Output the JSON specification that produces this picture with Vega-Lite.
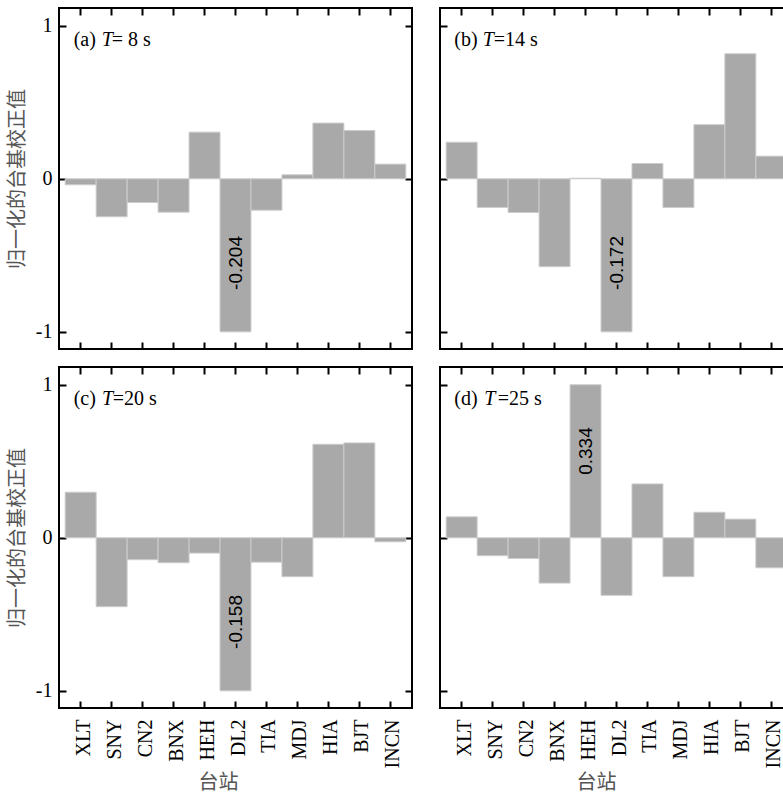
{
  "$schema": "https://vega.github.io/schema/vega-lite/v6.json",
  "background": "white",
  "padding": {"left": 6, "top": 6, "right": 0, "bottom": 0},
  "config": {
    "font": "Liberation Serif",
    "view": {"stroke": "black", "strokeWidth": 2},
    "axis": {
      "domain": false, "grid": false, "tickColor": "black", "tickWidth": 2, "tickSize": -7,
      "labelFont": "Liberation Serif", "labelFontSize": 20, "labelColor": "black",
      "titleFont": "Noto Sans CJK SC", "titleFontSize": 20, "titleColor": "#555555", "titleFontWeight": "normal"
    }
  },
  "datasets": {
    "bars": [
      {"panel": "a", "station": "XLT", "value": -0.039},
      {"panel": "a", "station": "SNY", "value": -0.248},
      {"panel": "a", "station": "CN2", "value": -0.155},
      {"panel": "a", "station": "BNX", "value": -0.218},
      {"panel": "a", "station": "HEH", "value": 0.305},
      {"panel": "a", "station": "DL2", "value": -1},
      {"panel": "a", "station": "TIA", "value": -0.205},
      {"panel": "a", "station": "MDJ", "value": 0.026},
      {"panel": "a", "station": "HIA", "value": 0.364},
      {"panel": "a", "station": "BJT", "value": 0.316},
      {"panel": "a", "station": "INCN", "value": 0.096},
      {"panel": "b", "station": "XLT", "value": 0.239},
      {"panel": "b", "station": "SNY", "value": -0.187},
      {"panel": "b", "station": "CN2", "value": -0.22},
      {"panel": "b", "station": "BNX", "value": -0.574},
      {"panel": "b", "station": "HEH", "value": 0.004},
      {"panel": "b", "station": "DL2", "value": -1},
      {"panel": "b", "station": "TIA", "value": 0.1},
      {"panel": "b", "station": "MDJ", "value": -0.187},
      {"panel": "b", "station": "HIA", "value": 0.354},
      {"panel": "b", "station": "BJT", "value": 0.817},
      {"panel": "b", "station": "INCN", "value": 0.148},
      {"panel": "c", "station": "XLT", "value": 0.298},
      {"panel": "c", "station": "SNY", "value": -0.45},
      {"panel": "c", "station": "CN2", "value": -0.143},
      {"panel": "c", "station": "BNX", "value": -0.163},
      {"panel": "c", "station": "HEH", "value": -0.1},
      {"panel": "c", "station": "DL2", "value": -1},
      {"panel": "c", "station": "TIA", "value": -0.159},
      {"panel": "c", "station": "MDJ", "value": -0.254},
      {"panel": "c", "station": "HIA", "value": 0.611},
      {"panel": "c", "station": "BJT", "value": 0.62},
      {"panel": "c", "station": "INCN", "value": -0.026},
      {"panel": "d", "station": "XLT", "value": 0.137},
      {"panel": "d", "station": "SNY", "value": -0.117},
      {"panel": "d", "station": "CN2", "value": -0.135},
      {"panel": "d", "station": "BNX", "value": -0.296},
      {"panel": "d", "station": "HEH", "value": 1},
      {"panel": "d", "station": "DL2", "value": -0.376},
      {"panel": "d", "station": "TIA", "value": 0.352},
      {"panel": "d", "station": "MDJ", "value": -0.254},
      {"panel": "d", "station": "HIA", "value": 0.167},
      {"panel": "d", "station": "BJT", "value": 0.122},
      {"panel": "d", "station": "INCN", "value": -0.196}
    ],
    "notes": [
      {"panel": "a", "station": "DL2", "label": "-0.204"},
      {"panel": "b", "station": "DL2", "label": "-0.172"},
      {"panel": "c", "station": "DL2", "label": "-0.158"},
      {"panel": "d", "station": "HEH", "label": "0.334"}
    ],
    "titles": [
      {"panel": "a", "pre": "(a)", "sym": "T", "post": "= 8 s"},
      {"panel": "b", "pre": "(b)", "sym": "T", "post": "=14 s"},
      {"panel": "c", "pre": "(c)", "sym": "T", "post": "=20 s"},
      {"panel": "d", "pre": "(d)", "sym": "T", "post": "=25 s"}
    ]
  },
  "columns": 2,
  "spacing": {"row": 14, "column": 24},
  "concat": [
    {
      "width": 353, "height": 341,
      "resolve": {"axis": {"x": "independent", "y": "independent"}},
      "layer": [
        {
          "data": {"name": "bars"},
          "transform": [{"filter": "datum.panel == 'a'"}],
          "mark": {"type": "bar", "color": "#a9a9a9", "stroke": "#cccccc", "strokeWidth": 1},
          "encoding": {
            "x": {"field": "station", "type": "nominal",
              "scale": {"domain": ["XLT","SNY","CN2","BNX","HEH","DL2","TIA","MDJ","HIA","BJT","INCN"], "paddingInner": 0, "paddingOuter": 0.2},
              "axis": {"orient": "bottom", "labels": false, "title": null}},
            "y": {"field": "value", "type": "quantitative", "scale": {"domain": [-1.112, 1.116], "nice": false, "zero": false},
              "axis": {"orient": "left", "values": [-1, 0, 1], "labelPadding": 14, "labelExpr": "datum.value < 0 ? '-' + abs(datum.value) : '' + datum.value", "title": "归一化的台基校正值", "titlePadding": 8}}
          }
        },
        {
          "data": {"name": "notes"},
          "transform": [{"filter": "datum.panel == 'a'"}],
          "mark": {"type": "text", "angle": 270, "font": "Liberation Sans", "fontSize": 19, "align": "center", "baseline": "middle", "color": "black"},
          "encoding": {
            "x": {"field": "station", "type": "nominal",
              "scale": {"domain": ["XLT","SNY","CN2","BNX","HEH","DL2","TIA","MDJ","HIA","BJT","INCN"], "paddingInner": 0, "paddingOuter": 0.2},
              "axis": {"orient": "top", "labels": false, "title": null}},
            "y": {"datum": -0.55, "type": "quantitative", "scale": {"domain": [-1.112, 1.116], "nice": false, "zero": false},
              "axis": {"orient": "right", "values": [-1, 0, 1], "labels": false, "title": null}},
            "text": {"field": "label"}
          }
        },
        {
          "data": {"name": "titles"},
          "transform": [{"filter": "datum.panel == 'a'"}],
          "mark": {"type": "text", "fontSize": 20, "align": "left", "baseline": "middle", "color": "black", "dx": -7},
          "encoding": {
            "x": {"datum": "XLT", "type": "nominal", "axis": null},
            "y": {"datum": 0.91, "type": "quantitative", "axis": null},
            "text": {"field": "pre"}
          }
        },
        {
          "data": {"name": "titles"},
          "transform": [{"filter": "datum.panel == 'a'"}],
          "mark": {"type": "text", "fontSize": 20, "fontStyle": "italic", "align": "left", "baseline": "middle", "color": "black", "dx": 21},
          "encoding": {
            "x": {"datum": "XLT", "type": "nominal", "axis": null},
            "y": {"datum": 0.91, "type": "quantitative", "axis": null},
            "text": {"field": "sym"}
          }
        },
        {
          "data": {"name": "titles"},
          "transform": [{"filter": "datum.panel == 'a'"}],
          "mark": {"type": "text", "fontSize": 20, "align": "left", "baseline": "middle", "color": "black", "dx": 31},
          "encoding": {
            "x": {"datum": "XLT", "type": "nominal", "axis": null},
            "y": {"datum": 0.91, "type": "quantitative", "axis": null},
            "text": {"field": "post"}
          }
        }
      ]
    },
    {
      "width": 353, "height": 341,
      "resolve": {"axis": {"x": "independent", "y": "independent"}},
      "layer": [
        {
          "data": {"name": "bars"},
          "transform": [{"filter": "datum.panel == 'b'"}],
          "mark": {"type": "bar", "color": "#a9a9a9", "stroke": "#cccccc", "strokeWidth": 1},
          "encoding": {
            "x": {"field": "station", "type": "nominal",
              "scale": {"domain": ["XLT","SNY","CN2","BNX","HEH","DL2","TIA","MDJ","HIA","BJT","INCN"], "paddingInner": 0, "paddingOuter": 0.2},
              "axis": {"orient": "bottom", "labels": false, "title": null}},
            "y": {"field": "value", "type": "quantitative", "scale": {"domain": [-1.112, 1.116], "nice": false, "zero": false},
              "axis": {"orient": "left", "values": [-1, 0, 1], "labels": false, "title": null}}
          }
        },
        {
          "data": {"name": "notes"},
          "transform": [{"filter": "datum.panel == 'b'"}],
          "mark": {"type": "text", "angle": 270, "font": "Liberation Sans", "fontSize": 19, "align": "center", "baseline": "middle", "color": "black"},
          "encoding": {
            "x": {"field": "station", "type": "nominal",
              "scale": {"domain": ["XLT","SNY","CN2","BNX","HEH","DL2","TIA","MDJ","HIA","BJT","INCN"], "paddingInner": 0, "paddingOuter": 0.2},
              "axis": {"orient": "top", "labels": false, "title": null}},
            "y": {"datum": -0.55, "type": "quantitative", "scale": {"domain": [-1.112, 1.116], "nice": false, "zero": false},
              "axis": {"orient": "right", "values": [-1, 0, 1], "labels": false, "title": null}},
            "text": {"field": "label"}
          }
        },
        {
          "data": {"name": "titles"},
          "transform": [{"filter": "datum.panel == 'b'"}],
          "mark": {"type": "text", "fontSize": 20, "align": "left", "baseline": "middle", "color": "black", "dx": -7.4},
          "encoding": {
            "x": {"datum": "XLT", "type": "nominal", "axis": null},
            "y": {"datum": 0.91, "type": "quantitative", "axis": null},
            "text": {"field": "pre"}
          }
        },
        {
          "data": {"name": "titles"},
          "transform": [{"filter": "datum.panel == 'b'"}],
          "mark": {"type": "text", "fontSize": 20, "fontStyle": "italic", "align": "left", "baseline": "middle", "color": "black", "dx": 21},
          "encoding": {
            "x": {"datum": "XLT", "type": "nominal", "axis": null},
            "y": {"datum": 0.91, "type": "quantitative", "axis": null},
            "text": {"field": "sym"}
          }
        },
        {
          "data": {"name": "titles"},
          "transform": [{"filter": "datum.panel == 'b'"}],
          "mark": {"type": "text", "fontSize": 20, "align": "left", "baseline": "middle", "color": "black", "dx": 32},
          "encoding": {
            "x": {"datum": "XLT", "type": "nominal", "axis": null},
            "y": {"datum": 0.91, "type": "quantitative", "axis": null},
            "text": {"field": "post"}
          }
        }
      ]
    },
    {
      "width": 353, "height": 341,
      "resolve": {"axis": {"x": "independent", "y": "independent"}},
      "layer": [
        {
          "data": {"name": "bars"},
          "transform": [{"filter": "datum.panel == 'c'"}],
          "mark": {"type": "bar", "color": "#a9a9a9", "stroke": "#cccccc", "strokeWidth": 1},
          "encoding": {
            "x": {"field": "station", "type": "nominal",
              "scale": {"domain": ["XLT","SNY","CN2","BNX","HEH","DL2","TIA","MDJ","HIA","BJT","INCN"], "paddingInner": 0, "paddingOuter": 0.2},
              "axis": {"orient": "bottom", "labelAngle": -90, "labelPadding": 18, "labelOffset": 3, "labelBaseline": "middle", "title": "台站", "titleX": 159, "titleY": 74, "titleBaseline": "middle", "titleAnchor": "start", "titleAlign": "center"}},
            "y": {"field": "value", "type": "quantitative", "scale": {"domain": [-1.112, 1.116], "nice": false, "zero": false},
              "axis": {"orient": "left", "values": [-1, 0, 1], "labelPadding": 14, "labelExpr": "datum.value < 0 ? '-' + abs(datum.value) : '' + datum.value", "title": "归一化的台基校正值", "titlePadding": 8}}
          }
        },
        {
          "data": {"name": "notes"},
          "transform": [{"filter": "datum.panel == 'c'"}],
          "mark": {"type": "text", "angle": 270, "font": "Liberation Sans", "fontSize": 19, "align": "center", "baseline": "middle", "color": "black"},
          "encoding": {
            "x": {"field": "station", "type": "nominal",
              "scale": {"domain": ["XLT","SNY","CN2","BNX","HEH","DL2","TIA","MDJ","HIA","BJT","INCN"], "paddingInner": 0, "paddingOuter": 0.2},
              "axis": {"orient": "top", "labels": false, "title": null}},
            "y": {"datum": -0.55, "type": "quantitative", "scale": {"domain": [-1.112, 1.116], "nice": false, "zero": false},
              "axis": {"orient": "right", "values": [-1, 0, 1], "labels": false, "title": null}},
            "text": {"field": "label"}
          }
        },
        {
          "data": {"name": "titles"},
          "transform": [{"filter": "datum.panel == 'c'"}],
          "mark": {"type": "text", "fontSize": 20, "align": "left", "baseline": "middle", "color": "black", "dx": -7},
          "encoding": {
            "x": {"datum": "XLT", "type": "nominal", "axis": null},
            "y": {"datum": 0.91, "type": "quantitative", "axis": null},
            "text": {"field": "pre"}
          }
        },
        {
          "data": {"name": "titles"},
          "transform": [{"filter": "datum.panel == 'c'"}],
          "mark": {"type": "text", "fontSize": 20, "fontStyle": "italic", "align": "left", "baseline": "middle", "color": "black", "dx": 21.3},
          "encoding": {
            "x": {"datum": "XLT", "type": "nominal", "axis": null},
            "y": {"datum": 0.91, "type": "quantitative", "axis": null},
            "text": {"field": "sym"}
          }
        },
        {
          "data": {"name": "titles"},
          "transform": [{"filter": "datum.panel == 'c'"}],
          "mark": {"type": "text", "fontSize": 20, "align": "left", "baseline": "middle", "color": "black", "dx": 32},
          "encoding": {
            "x": {"datum": "XLT", "type": "nominal", "axis": null},
            "y": {"datum": 0.91, "type": "quantitative", "axis": null},
            "text": {"field": "post"}
          }
        }
      ]
    },
    {
      "width": 353, "height": 341,
      "resolve": {"axis": {"x": "independent", "y": "independent"}},
      "layer": [
        {
          "data": {"name": "bars"},
          "transform": [{"filter": "datum.panel == 'd'"}],
          "mark": {"type": "bar", "color": "#a9a9a9", "stroke": "#cccccc", "strokeWidth": 1},
          "encoding": {
            "x": {"field": "station", "type": "nominal",
              "scale": {"domain": ["XLT","SNY","CN2","BNX","HEH","DL2","TIA","MDJ","HIA","BJT","INCN"], "paddingInner": 0, "paddingOuter": 0.2},
              "axis": {"orient": "bottom", "labelAngle": -90, "labelPadding": 18, "labelOffset": 3, "labelBaseline": "middle", "title": "台站", "titleX": 156, "titleY": 74, "titleBaseline": "middle", "titleAnchor": "start", "titleAlign": "center"}},
            "y": {"field": "value", "type": "quantitative", "scale": {"domain": [-1.112, 1.116], "nice": false, "zero": false},
              "axis": {"orient": "left", "values": [-1, 0, 1], "labels": false, "title": null}}
          }
        },
        {
          "data": {"name": "notes"},
          "transform": [{"filter": "datum.panel == 'd'"}],
          "mark": {"type": "text", "angle": 270, "font": "Liberation Sans", "fontSize": 19, "align": "center", "baseline": "middle", "color": "black"},
          "encoding": {
            "x": {"field": "station", "type": "nominal",
              "scale": {"domain": ["XLT","SNY","CN2","BNX","HEH","DL2","TIA","MDJ","HIA","BJT","INCN"], "paddingInner": 0, "paddingOuter": 0.2},
              "axis": {"orient": "top", "labels": false, "title": null}},
            "y": {"datum": 0.567, "type": "quantitative", "scale": {"domain": [-1.112, 1.116], "nice": false, "zero": false},
              "axis": {"orient": "right", "values": [-1, 0, 1], "labels": false, "title": null}},
            "text": {"field": "label"}
          }
        },
        {
          "data": {"name": "titles"},
          "transform": [{"filter": "datum.panel == 'd'"}],
          "mark": {"type": "text", "fontSize": 20, "align": "left", "baseline": "middle", "color": "black", "dx": -7.4},
          "encoding": {
            "x": {"datum": "XLT", "type": "nominal", "axis": null},
            "y": {"datum": 0.91, "type": "quantitative", "axis": null},
            "text": {"field": "pre"}
          }
        },
        {
          "data": {"name": "titles"},
          "transform": [{"filter": "datum.panel == 'd'"}],
          "mark": {"type": "text", "fontSize": 20, "fontStyle": "italic", "align": "left", "baseline": "middle", "color": "black", "dx": 22.6},
          "encoding": {
            "x": {"datum": "XLT", "type": "nominal", "axis": null},
            "y": {"datum": 0.91, "type": "quantitative", "axis": null},
            "text": {"field": "sym"}
          }
        },
        {
          "data": {"name": "titles"},
          "transform": [{"filter": "datum.panel == 'd'"}],
          "mark": {"type": "text", "fontSize": 20, "align": "left", "baseline": "middle", "color": "black", "dx": 36},
          "encoding": {
            "x": {"datum": "XLT", "type": "nominal", "axis": null},
            "y": {"datum": 0.91, "type": "quantitative", "axis": null},
            "text": {"field": "post"}
          }
        }
      ]
    }
  ]
}
